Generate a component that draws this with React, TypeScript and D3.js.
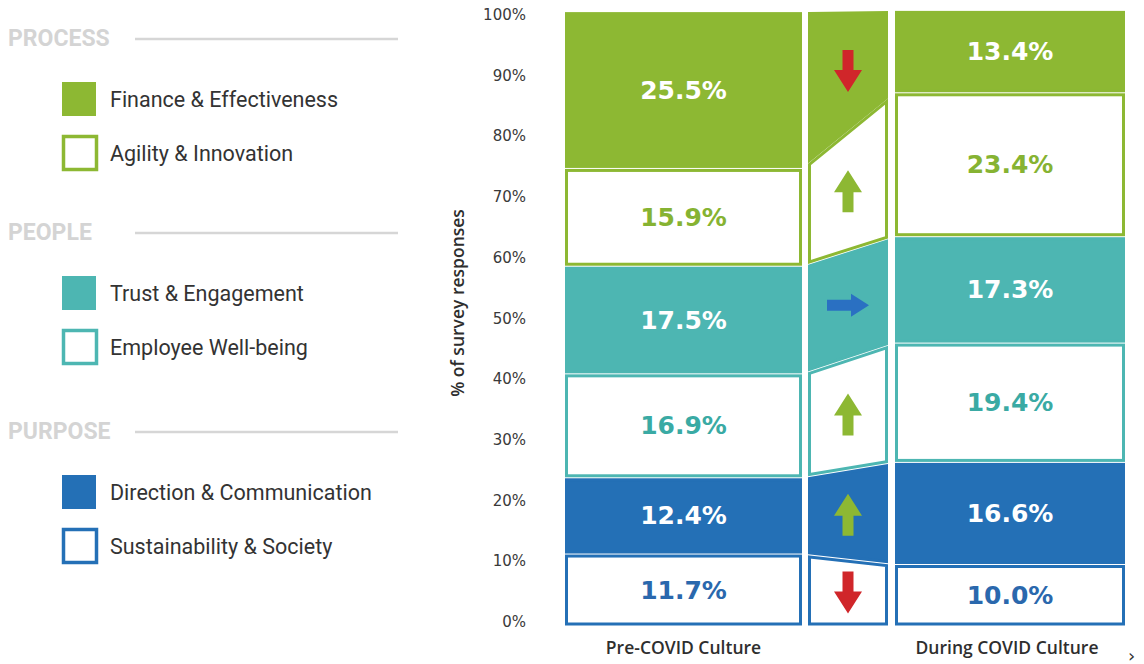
import React from "react";
import * as d3 from "d3";

// ---------- data ----------
const categories = [
  "Sustainability & Society",
  "Direction & Communication",
  "Employee Well-being",
  "Trust & Engagement",
  "Agility & Innovation",
  "Finance & Effectiveness",
]; // bottom -> top
const groupOf = ["PURPOSE", "PURPOSE", "PEOPLE", "PEOPLE", "PROCESS", "PROCESS"];
const filledSeg = [false, true, false, true, false, true];
const preCovid = [11.7, 12.4, 16.9, 17.5, 15.9, 25.5];
const duringCovid = [10.0, 16.6, 19.4, 17.3, 23.4, 13.4];
const columnLabels = ["Pre-COVID Culture", "During COVID Culture"];
const groups = ["PROCESS", "PEOPLE", "PURPOSE"];
const yTicks = [0, 10, 20, 30, 40, 50, 60, 70, 80, 90, 100];

const groupColor: Record<string, string> = {
  PROCESS: "#8db833",
  PEOPLE: "#4db6b2",
  PURPOSE: "#2470b6",
};
const groupTextColor: Record<string, string> = {
  PROCESS: "#86b332",
  PEOPLE: "#3aaaa4",
  PURPOSE: "#2a68ad",
};

// ---------- layout ----------
const W = 1144;
const H = 664;
const y = d3.scaleLinear().domain([0, 100]).range([626, 11]);
const yLab = d3.scaleLinear().domain([0, 100]).range([622, 15]);
const preX0 = 565, preX1 = 802;
const conX0 = 808, conX1 = 888;
const durX0 = 895, durX1 = 1125;
const SW = 3;

function cumulative(vals: number[]) {
  const c = [0];
  vals.forEach((v) => c.push(c[c.length - 1] + v));
  return c;
}
const cumPre = cumulative(preCovid);
const cumDur = cumulative(duringCovid);

function arrowPath(dir: string) {
  if (dir === "down")
    return "M-5.5,-21 L5.5,-21 L5.5,-1 L14,-1 L0,21 L-14,-1 L-5.5,-1 Z";
  if (dir === "up")
    return "M-5.5,21 L5.5,21 L5.5,1 L14,1 L0,-21 L-14,1 L-5.5,1 Z";
  return "M-21,-5.5 L3,-5.5 L3,-11.5 L21,0 L3,11.5 L3,5.5 L-21,5.5 Z";
}
const arrowColor: Record<string, string> = {
  down: "#d0262a",
  up: "#8db833",
  flat: "#2a70c2",
};

const valueFont = "'DejaVu Sans', sans-serif";

function Bar({ x0, x1, cum, vals }: { x0: number; x1: number; cum: number[]; vals: number[] }) {
  const inset = SW / 2;
  const g = 2;
  const cx = (x0 + x1) / 2;
  return (
    <g>
      {vals.map((v, i) => {
        const grp = groupOf[i];
        const col = groupColor[grp];
        const top = y(cum[i + 1]) + g;
        const bot = y(cum[i]) - g;
        const mid = (y(cum[i + 1]) + y(cum[i])) / 2;
        return (
          <g key={i}>
            <rect
              x={x0 + inset}
              y={top}
              width={x1 - x0 - SW}
              height={bot - top}
              fill={filledSeg[i] ? col : "#ffffff"}
              stroke={col}
              strokeWidth={SW}
            />
            <text
              x={cx}
              y={mid}
              textAnchor="middle"
              dominantBaseline="central"
              fontFamily={valueFont}
              fontWeight={700}
              fontSize={25}
              fill={filledSeg[i] ? "#ffffff" : groupTextColor[grp]}
            >
              {v.toFixed(1)}%
            </text>
          </g>
        );
      })}
    </g>
  );
}

function Connector() {
  const inset = SW / 2;
  const g = 2;
  const xa = conX0 + inset;
  const xb = conX1 - inset;
  const lineAt = (yp: number, yd: number, x: number) => {
    const t = (x - preX1) / (durX0 - preX1);
    return yp + (yd - yp) * t;
  };
  const cxm = (conX0 + conX1) / 2;
  return (
    <g>
      {preCovid.map((pv, i) => {
        const col = groupColor[groupOf[i]];
        const tpA = lineAt(y(cumPre[i + 1]), y(cumDur[i + 1]), xa) + g;
        const tpB = lineAt(y(cumPre[i + 1]), y(cumDur[i + 1]), xb) + g;
        const btA = lineAt(y(cumPre[i]), y(cumDur[i]), xa) - g;
        const btB = lineAt(y(cumPre[i]), y(cumDur[i]), xb) - g;
        const midY = (tpA + tpB + btA + btB) / 4;
        const diff = duringCovid[i] - pv;
        const dir = diff > 0.5 ? "up" : diff < -0.5 ? "down" : "flat";
        return (
          <g key={i}>
            <polygon
              points={`${xa},${tpA} ${xb},${tpB} ${xb},${btB} ${xa},${btA}`}
              fill={filledSeg[i] ? col : "#ffffff"}
              stroke={col}
              strokeWidth={SW}
              strokeLinejoin="miter"
            />
            <path d={arrowPath(dir)} transform={`translate(${cxm},${midY})`} fill={arrowColor[dir]} />
          </g>
        );
      })}
    </g>
  );
}

function Legend() {
  const headerY = [38, 232, 431];
  const items: { [k: string]: number[] } = { PROCESS: [5, 4], PEOPLE: [3, 2], PURPOSE: [1, 0] };
  return (
    <g>
      {groups.map((grp, gi) => {
        const hy = headerY[gi];
        const col = groupColor[grp];
        return (
          <g key={grp}>
            <text
              x={8}
              y={hy}
              dominantBaseline="central"
              fontFamily="Roboto, sans-serif"
              fontWeight={700}
              fontSize={23}
              fill="#d4d4d4"
            >
              {grp}
            </text>
            <line x1={135} x2={398} y1={hy + 1} y2={hy + 1} stroke="#d6d6d6" strokeWidth={2.5} />
            {items[grp].map((ci, k) => {
              const cy = hy + 61 + k * 54;
              const filled = filledSeg[ci];
              return (
                <g key={ci}>
                  {filled ? (
                    <rect x={62} y={cy - 17} width={34} height={34} fill={col} />
                  ) : (
                    <rect x={63.5} y={cy - 16.5} width={33} height={33} fill="#fff" stroke={col} strokeWidth={3.5} />
                  )}
                  <text
                    x={110}
                    y={cy}
                    dominantBaseline="central"
                    fontFamily="Roboto, sans-serif"
                    fontSize={21.5}
                    fill="#333333"
                  >
                    {categories[ci]}
                  </text>
                </g>
              );
            })}
          </g>
        );
      })}
    </g>
  );
}

export default function App() {
  return (
    <svg
      width={W}
      height={H}
      viewBox={`0 0 ${W} ${H}`}
      style={{ position: "absolute", left: 0, top: 0, background: "#fff" }}
    >
      <rect x={0} y={0} width={W} height={H} fill="#ffffff" />
      <Legend />
      {/* y axis ticks */}
      {yTicks.map((t) => (
        <text
          key={t}
          x={526}
          y={yLab(t)}
          textAnchor="end"
          dominantBaseline="central"
          fontFamily="'DejaVu Sans', sans-serif"
          fontSize={15}
          fill="#3a3a3a"
        >
          {t}%
        </text>
      ))}
      <text
        transform={`translate(457,303) rotate(-90)`}
        textAnchor="middle"
        dominantBaseline="central"
        fontFamily="'Open Sans', sans-serif"
        fontWeight={600}
        fontSize={17.5}
        fill="#2e2e2e"
      >
        % of survey responses
      </text>
      <Bar x0={preX0} x1={preX1} cum={cumPre} vals={preCovid} />
      <Connector />
      <Bar x0={durX0} x1={durX1} cum={cumDur} vals={duringCovid} />
      <text
        x={(preX0 + preX1) / 2}
        y={647}
        textAnchor="middle"
        dominantBaseline="central"
        fontFamily="'Open Sans', sans-serif"
        fontWeight={600}
        fontSize={17.5}
        fill="#2e2e2e"
      >
        {columnLabels[0]}
      </text>
      <text
        x={(durX0 + durX1) / 2 - 3}
        y={647}
        textAnchor="middle"
        dominantBaseline="central"
        fontFamily="'Open Sans', sans-serif"
        fontWeight={600}
        fontSize={17.5}
        fill="#2e2e2e"
      >
        {columnLabels[1]}
      </text>
      <text x={1128} y={655} dominantBaseline="central" fontFamily="'DejaVu Sans', sans-serif" fontSize={18} fill="#333">
        ›
      </text>
    </svg>
  );
}
